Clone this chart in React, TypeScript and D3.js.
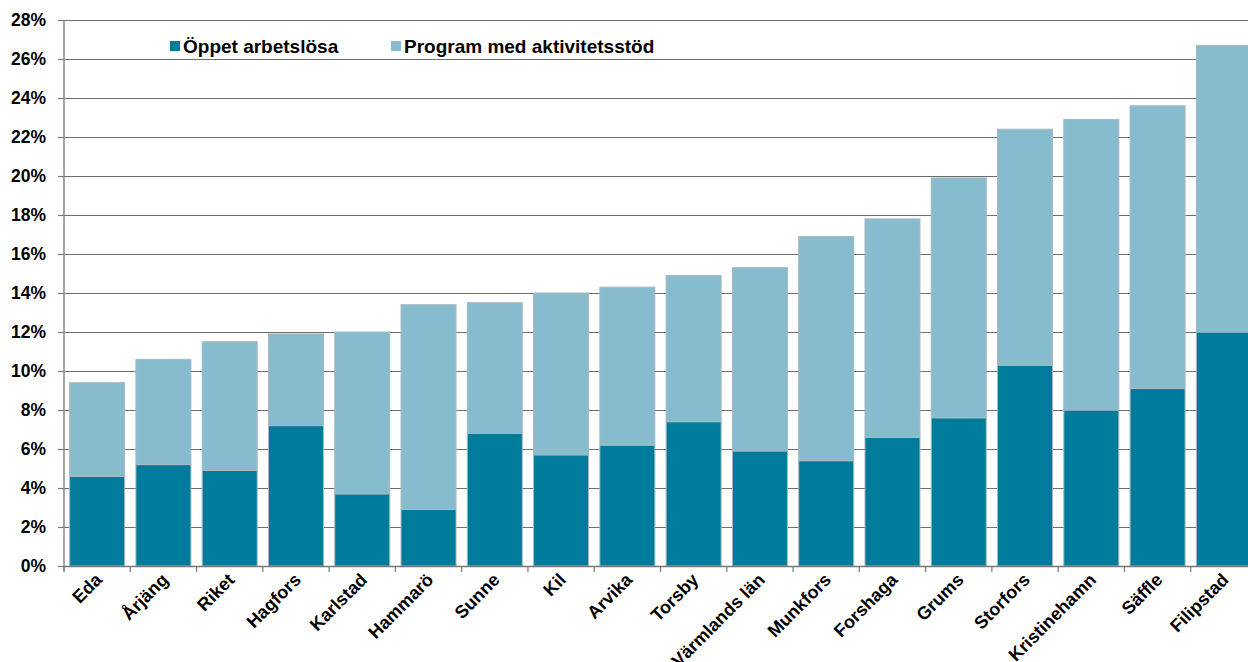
import React from "react";
import * as d3 from "d3";

// Municipalities in Värmland, sorted by total share
const categories: string[] = [
  "Eda", "Årjäng", "Riket", "Hagfors", "Karlstad", "Hammarö", "Sunne", "Kil", "Arvika",
  "Torsby", "Värmlands län", "Munkfors", "Forshaga", "Grums", "Storfors", "Kristinehamn", "Säffle", "Filipstad",
];

// Open unemployment (% of population)
const openUnemployed: number[] = [
  4.6, 5.2, 4.9, 7.2, 3.7, 2.9, 6.8, 5.7, 6.2, 7.4, 5.9, 5.4, 6.6, 7.6, 10.3, 8.0, 9.1, 12.0,
];

// Total share including programmes with activity support (%)
const totalShare: number[] = [
  9.4, 10.6, 11.5, 11.9, 12.0, 13.4, 13.5, 14.0, 14.3, 14.9, 15.3, 16.9, 17.8, 19.9, 22.4, 22.9, 23.6, 26.7,
];

const programme: number[] = totalShare.map((t, i) => +(t - openUnemployed[i]).toFixed(1));

const seriesNames: string[] = ["Öppet arbetslösa", "Program med aktivitetsstöd"];
const seriesColors: string[] = ["#007b9c", "#86bccd"];

const yTicks: number[] = d3.range(0, 29, 2);

const W = 1248;
const H = 662;
const left = 64;
const right = 1257;
const top = 20;
const bottom = 566;
const font = "'Liberation Sans', Arial, sans-serif";

export default function App() {
  const x = d3.scaleBand<string>().domain(categories).range([left, right]).paddingInner(0.17).paddingOuter(0.085);
  const y = d3.scaleLinear().domain([0, 28]).range([bottom, top]);

  const rows = categories.map((c, i) => ({ c, open: openUnemployed[i], prog: programme[i] }));
  const stack = d3.stack<any>().keys(["open", "prog"])(rows);

  const step = x.step();
  const boundaries = d3.range(categories.length + 1).map((i) => left + i * step);

  return (
    <svg width={W} height={H} style={{ position: "absolute", left: 0, top: 0, background: "#fff" }} fontFamily={font}>
      {/* grid lines */}
      {yTicks.filter((t) => t > 0).map((t) => (
        <line key={t} x1={left} x2={W} y1={Math.round(y(t)) + 0.5} y2={Math.round(y(t)) + 0.5} stroke="#6e6e6e" strokeWidth={1.2} />
      ))}

      {/* stacked bars */}
      {stack.map((layer, si) => (
        <g key={si}>
          {layer.map((d, i) => (
            <rect
              key={i}
              x={x(categories[i])}
              width={x.bandwidth()}
              y={y(d[1])}
              height={y(d[0]) - y(d[1])}
              fill={seriesColors[si]}
              stroke="#a9b9be"
              strokeWidth={1}
            />
          ))}
        </g>
      ))}

      {/* axes */}
      <line x1={left} x2={left} y1={top} y2={bottom + 5} stroke="#888" strokeWidth={1.5} />
      <line x1={left} x2={W} y1={bottom + 0.5} y2={bottom + 0.5} stroke="#777" strokeWidth={1.5} />
      {yTicks.map((t) => (
        <g key={t}>
          <line x1={left - 6} x2={left} y1={Math.round(y(t)) + 0.5} y2={Math.round(y(t)) + 0.5} stroke="#777" strokeWidth={1.2} />
          <text x={46} y={y(t)} dy="0.35em" textAnchor="end" fontSize={17.5} fontWeight="bold" fill="#000">
            {d3.format(".0%")(t / 100)}
          </text>
        </g>
      ))}
      {boundaries.map((b, i) => (
        <line key={i} x1={b} x2={b} y1={bottom} y2={bottom + 6} stroke="#777" strokeWidth={1.2} />
      ))}
      {categories.map((c) => {
        const cx = (x(c) as number) + x.bandwidth() / 2 + 6;
        const cy = 581;
        return (
          <text key={c} x={cx} y={cy} transform={`rotate(-45 ${cx} ${cy})`} textAnchor="end" fontSize={18} fontWeight="bold" fill="#000">
            {c}
          </text>
        );
      })}

      {/* legend */}
      {seriesNames.map((n, i) => {
        const lx = i === 0 ? 170 : 391;
        return (
          <g key={n}>
            <rect x={lx} y={41} width={10} height={10} fill={seriesColors[i]} />
            <text x={lx + 13} y={52.5} fontSize={19} fontWeight="bold" fill="#000">
              {n}
            </text>
          </g>
        );
      })}
    </svg>
  );
}
